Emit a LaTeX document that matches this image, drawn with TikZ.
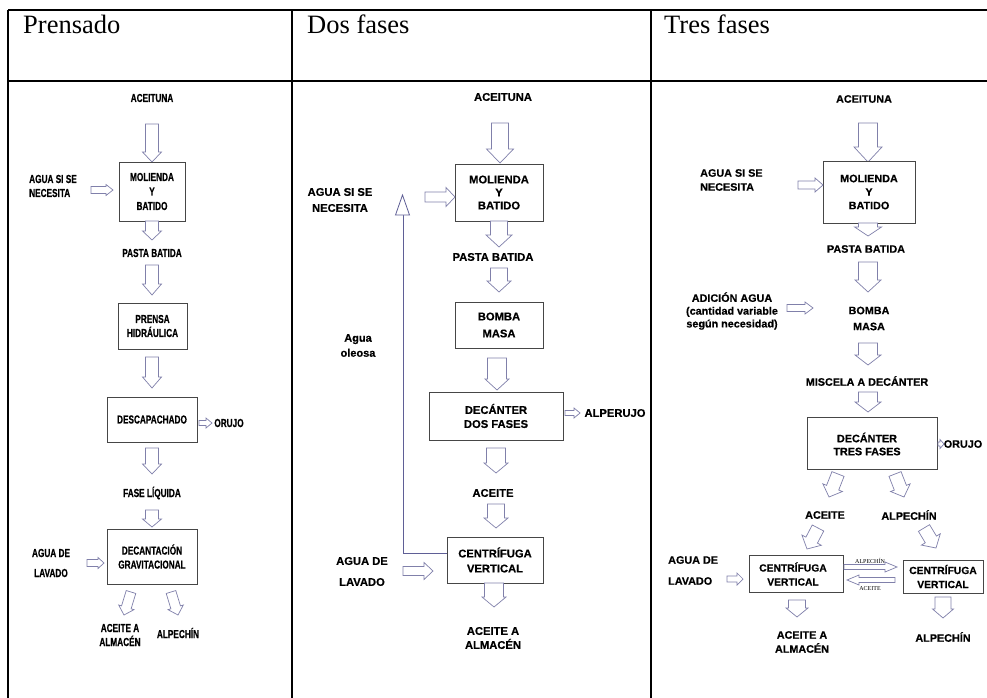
\documentclass[tikz,border=0pt]{standalone}
\usepackage{fontspec}
\setmainfont{Liberation Serif}
\newfontfamily\sansA[FakeBold=0.5]{Liberation Sans Bold}
\newfontfamily\sansC[FakeStretch=0.71,FakeBold=0.5]{Liberation Sans Bold}
\newcommand\fsA[2]{\sansA\fontsize{#1}{#2}\selectfont}
\newcommand\fsC[2]{\sansC\fontsize{#1}{#2}\selectfont}
\definecolor{arrc}{RGB}{128,128,170}
\definecolor{retc}{RGB}{95,95,150}
\definecolor{boxc}{RGB}{70,70,70}
\newcommand\BA[7]{%
 \pgfmathsetmacro\baang{atan2((#4)-(#2),(#3)-(#1))}%
 \pgfmathsetmacro\balen{veclen((#3)-(#1),(#4)-(#2))}%
 \pgfmathsetmacro\bab{\balen-(#7)}%
 \draw[blk, shift={(#1,#2)}, rotate=-\baang] (0,-#5/2) -- (\bab,-#5/2) -- (\bab,-#6/2) -- (\balen,0) -- (\bab,#6/2) -- (\bab,#5/2) -- (0,#5/2) -- cycle;
}
\begin{document}
\begin{tikzpicture}[x=1pt,y=-1pt,
  t1/.style={font=\fsC{11.6}{14}, align=center, inner sep=0pt},
  t2/.style={font=\fsA{11.2}{14}, align=center, inner sep=0pt},
  t3/.style={font=\fsA{10.8}{14}, align=center, inner sep=0pt},
  bx/.style={draw=boxc, line width=0.8pt, fill=white},
  blk/.style={draw=arrc, line width=0.7pt, fill=white, line join=miter},
  hd/.style={font=\fontsize{26.5}{30}\selectfont, anchor=base west, inner sep=0pt},
  tiny/.style={font=\fontsize{6}{7}\selectfont, inner sep=0pt}]
\useasboundingbox[fill=white] (0,0) rectangle (987,698);
% table
\draw[line width=2.2pt] (8,10) -- (987,10);
\draw[line width=1.8pt] (8,81) -- (987,81);
\draw[line width=2.2pt] (8,10) -- (8,698);
\draw[line width=2.2pt] (292,10) -- (292,698);
\draw[line width=2.2pt] (651,10) -- (651,698);
\node[hd] (h1) at (23,34) {Prensado};
\node[hd] (h2) at (307,34) {Dos fases};
\node[hd] (h3) at (664,34) {Tres fases};

% ---------- column 1 ----------
\node[t1] (a1) at (152,98) {ACEITUNA};
\BA{152}{124}{152}{162}{13}{19}{10}
\node[bx,t1,font=\fsC{11.6}{14.5},minimum width=66,minimum height=59] (a2) at (152,191.5) {MOLIENDA\\Y\\BATIDO};
\node[t1,align=left] (a3) at (53,186) {AGUA SI SE\\NECESITA};
\BA{91}{190}{113}{190}{7}{11}{7}
\BA{152}{221}{152}{240}{13}{19}{9}
\node[t1] (a4) at (152,253) {PASTA BATIDA};
\BA{152}{265}{152}{295}{13}{19}{11}
\node[bx,t1,minimum width=69,minimum height=46] (a5) at (152.5,326) {PRENSA\\HIDRÁULICA};
\BA{152}{357}{152}{388}{13}{19}{11}
\node[bx,t1,minimum width=90,minimum height=45] (a6) at (152,419.5) {DESCAPACHADO};
\BA{199}{423}{212}{423}{5}{10}{6}
\node[t1] (a7) at (229,423) {ORUJO};
\BA{152}{448}{152}{474}{13}{19}{10}
\node[t1] (a8) at (152,493) {FASE LÍQUIDA};
\BA{152}{510}{152}{527}{13}{19}{8}
\node[bx,t1,minimum width=90,minimum height=55] (a9) at (152,556.5) {DECANTACIÓN\\GRAVITACIONAL};
\node[t1,font=\fsC{11.6}{20}] (a10) at (51,563) {AGUA DE\\LAVADO};
\BA{87}{563}{104}{563}{7}{11}{6}
\BA{131}{592}{124}{615}{10}{16}{8}
\BA{171}{592}{178}{615}{10}{16}{8}
\node[t1] (a11) at (120,635) {ACEITE A\\ALMACÉN};
\node[t1] (a12) at (178,633) {ALPECHÍN};

% ---------- column 2 ----------
\node[t2] (b1) at (503,97) {ACEITUNA};
\BA{500}{123}{500}{163}{17}{27}{14}
\node[bx,t2,font=\fsA{11.2}{13},minimum width=88,minimum height=57] (b2) at (499,192.5) {MOLIENDA\\Y\\BATIDO};
\node[t2,font=\fsA{11.2}{16}] (b3) at (340,200) {AGUA SI SE\\NECESITA};
\BA{425}{197}{455}{197}{10}{19}{9}
\BA{499}{221}{499}{247}{17}{26}{12}
\node[t2] (b4) at (493,257) {PASTA BATIDA};
\BA{499}{268}{499}{292}{17}{24}{11}
\node[bx,t2,font=\fsA{11.2}{17},minimum width=88,minimum height=46] (b5) at (499,325) {BOMBA\\MASA};
\BA{497}{358}{497}{390}{19}{24}{11}
\node[bx,t2,minimum width=134,minimum height=48] (b6) at (496,416) {DECÁNTER\\DOS FASES};
\BA{565}{413}{580}{413}{5}{10}{6}
\node[t2] (b7) at (615,413) {ALPERUJO};
\BA{496}{448}{496}{473}{19}{24}{10}
\node[t2] (b8) at (493,493) {ACEITE};
\BA{496}{504}{496}{528}{17}{24}{10}
\node[bx,t2,font=\fsA{11.2}{15},minimum width=96,minimum height=46] (b9) at (495,560) {CENTRÍFUGA\\VERTICAL};
\node[t2,font=\fsA{11.2}{21}] (b10) at (362,571.5) {AGUA DE\\LAVADO};
\BA{403}{571}{433}{571}{9}{17}{9}
\coordinate (rt) at (403,215);
\draw[retc, line width=0.9pt] (b9.west |- 0,553) -- (403,553) -- (rt);
\draw[retc, line width=0.8pt, fill=white] (395.5,215) -- (402.5,195) -- (409.5,215) -- cycle;
\node[t2,font=\fsA{11}{15}] (b11) at (358,345.5) {Agua\\oleosa};
\BA{494}{583}{494}{607}{19}{24}{10}
\node[t2] (b12) at (493,638) {ACEITE A\\ALMACÉN};

% ---------- column 3 ----------
\node[t3] (c1) at (864,99) {ACEITUNA};
\BA{868}{123}{868}{162}{19}{28}{15}
\node[bx,t3,font=\fsA{10.8}{13.5},minimum width=92,minimum height=62] (c2) at (869,192) {MOLIENDA\\Y\\BATIDO};
\node[t3,align=left,anchor=west] (c3) at (700,180) {AGUA SI SE\\NECESITA};
\BA{798}{185}{823}{185}{8}{14}{8}
\BA{868}{223}{868}{236}{19}{27}{9}
\node[t3] (c4) at (866,249) {PASTA BATIDA};
\BA{868}{262}{868}{292}{19}{26}{12}
\node[t3,font=\fsA{10.8}{16}] (c5) at (869,318.5) {BOMBA\\MASA};
\node[t3,font=\fsA{10.8}{12.8}] (c6) at (732,311) {ADICIÓN AGUA\\(cantidad variable\\según necesidad)};
\BA{787}{308}{813}{308}{7}{12}{8}
\BA{868}{343}{868}{365}{19}{26}{10}
\node[t3] (c7) at (867,381) {MISCELA A DECÁNTER};
\BA{868}{392}{868}{412}{19}{26}{10}
\node[bx,minimum width=130,minimum height=52] (c8) at (872,443) {};
\node[t3,font=\fsA{10.8}{13}] (c8t) at (867,444) {DECÁNTER\\TRES FASES};
\BA{938}{444}{944}{444}{4}{9}{4}
\node[t3] (c9) at (963,444) {ORUJO};
\BA{838}{474}{829}{497}{13}{21}{10}
\BA{895}{474}{904}{497}{13}{21}{10}
\node[t3] (c10) at (825,515) {ACEITE};
\node[t3] (c11) at (909,515) {ALPECHÍN};
\BA{818}{528}{807}{549}{13}{22}{10}
\BA{924}{528}{936}{548}{13}{22}{10}
\node[bx,minimum width=94,minimum height=37] (c12) at (796,573.5) {};
\node[t3,font=\fsA{10.3}{14}] (c12t) at (793,574) {CENTRÍFUGA\\VERTICAL};
\node[bx,t3,font=\fsA{10.3}{14},minimum width=80,minimum height=33] (c13) at (943,576.5) {CENTRÍFUGA\\VERTICAL};
\BA{844}{567}{897}{567}{5}{10}{12}
\BA{895}{580}{847}{580}{5}{10}{12}
\node[tiny] (c14) at (870,561) {ALPECHÍN};
\node[tiny] (c15) at (870,589) {ACEITE};
\node[t3,align=left,anchor=west,font=\fsA{10.8}{21}] (c16) at (668,570.5) {AGUA DE\\LAVADO};
\BA{727}{579}{743}{579}{6}{12}{6}
\BA{797}{600}{797}{617}{17}{22}{9}
\node[t3] (c17) at (802,642) {ACEITE A\\ALMACÉN};
\BA{943}{597}{943}{618}{16}{21}{9}
\node[t3] (c18) at (943,637) {ALPECHÍN};
\end{tikzpicture}
\end{document}
